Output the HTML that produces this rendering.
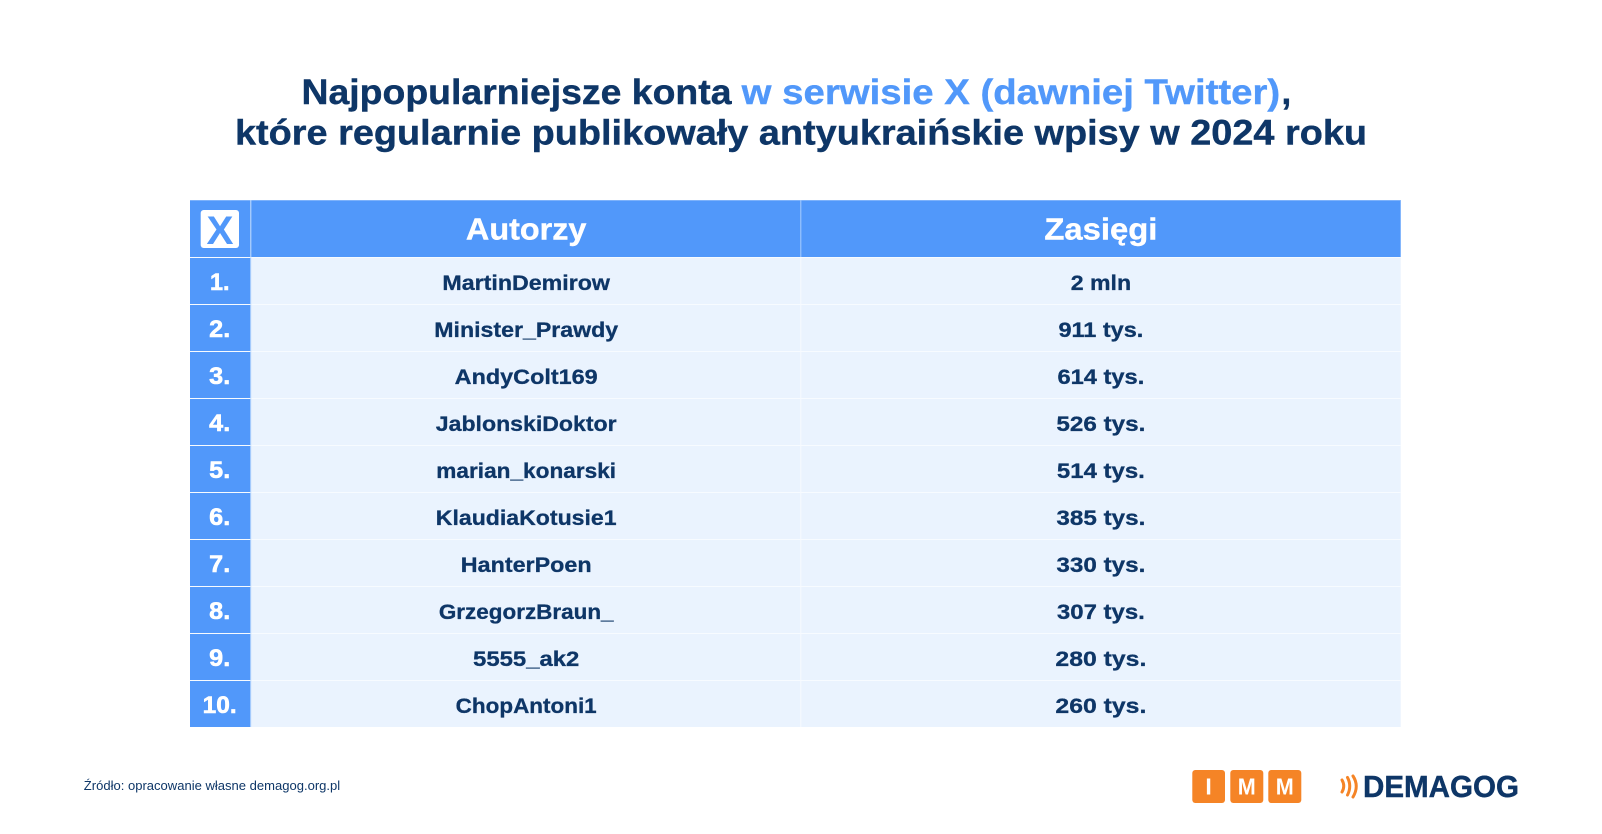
<!DOCTYPE html>
<html lang="pl">
<head>
<meta charset="utf-8">
<title>Najpopularniejsze konta w serwisie X</title>
<style>
html,body{margin:0;padding:0;background:#fff;width:1602px;height:834px;overflow:hidden}
svg{display:block}
text{font-family:"Liberation Sans","Noto Sans CJK SC",sans-serif;font-weight:700}
.t{fill:#0e3667;stroke:#0e3667;stroke-width:.4px;font-size:35px}
.h{fill:#fff;stroke:#fff;stroke-width:.4px;font-size:31px;text-anchor:middle}
.n{fill:#fff;stroke:#fff;stroke-width:.6px;font-size:24px;text-anchor:middle}
.c{fill:#0e3667;stroke:#0e3667;stroke-width:.3px;font-size:21.5px;text-anchor:middle}
</style>
</head>
<body>
<svg width="1602" height="834" viewBox="0 0 1602 834" xmlns="http://www.w3.org/2000/svg">
<rect width="1602" height="834" fill="#fff"/>

<g>
<text class="t" x="301.5" y="104" textLength="430" lengthAdjust="spacingAndGlyphs">Najpopularniejsze konta</text>
<text class="t" x="741.7" y="104" textLength="538.5" lengthAdjust="spacingAndGlyphs" style="fill:#5198fa;stroke:#5198fa">w serwisie X (dawniej Twitter)</text>
<text class="t" x="1281.5" y="104">,</text>
<text class="t" x="235" y="144.5" textLength="1132" lengthAdjust="spacingAndGlyphs">które regularnie publikowały antyukraińskie wpisy w 2024 roku</text>
</g>

<g>
<rect x="190" y="200" width="1210.7" height="57" fill="#5198fa"/>
<rect x="190" y="200" width="1210.7" height="1" fill="#7db2fb"/>
<rect x="250.5" y="257" width="1150.2" height="470" fill="#eaf3fe"/>
<rect x="190" y="257" width="60.5" height="470" fill="#5198fa"/>

<g fill="#f7fbff">
<rect x="190" y="257" width="1210.7" height="1"/>
<rect x="190" y="304" width="1210.7" height="1"/>
<rect x="190" y="351" width="1210.7" height="1"/>
<rect x="190" y="398" width="1210.7" height="1"/>
<rect x="190" y="445" width="1210.7" height="1"/>
<rect x="190" y="492" width="1210.7" height="1"/>
<rect x="190" y="539" width="1210.7" height="1"/>
<rect x="190" y="586" width="1210.7" height="1"/>
<rect x="190" y="633" width="1210.7" height="1"/>
<rect x="190" y="680" width="1210.7" height="1"/>
</g>
<rect x="250.3" y="200" width="1" height="527" fill="#c9e0fd"/>
<rect x="800.3" y="200" width="1" height="57" fill="#a9cdfc"/>
<rect x="800.3" y="258" width="1" height="469" fill="#f7fbff"/>

<g>
<rect x="200.7" y="210" width="38.3" height="38" rx="3" fill="#fff"/>
<text x="220" y="244" text-anchor="middle" textLength="27" lengthAdjust="spacingAndGlyphs" style="font-size:40px;fill:#5198fa">X</text>
<text class="h" x="526.2" y="239.5" textLength="120.5" lengthAdjust="spacingAndGlyphs">Autorzy</text>
<text class="h" x="1100.9" y="239.5" textLength="113" lengthAdjust="spacingAndGlyphs">Zasięgi</text>
</g>

<g>
<text class="n" x="219.7" y="290" textLength="19.5" lengthAdjust="spacingAndGlyphs">1.</text>
<text class="c" x="526.2" y="290" textLength="167.6" lengthAdjust="spacingAndGlyphs">MartinDemirow</text>
<text class="c" x="1100.9" y="290" textLength="60.3" lengthAdjust="spacingAndGlyphs">2 mln</text>
</g>
<g>
<text class="n" x="219.7" y="337" textLength="21" lengthAdjust="spacingAndGlyphs">2.</text>
<text class="c" x="526.2" y="337" textLength="183.9" lengthAdjust="spacingAndGlyphs">Minister_Prawdy</text>
<text class="c" x="1100.9" y="337" textLength="84.8" lengthAdjust="spacingAndGlyphs">911 tys.</text>
</g>
<g>
<text class="n" x="219.7" y="384" textLength="21" lengthAdjust="spacingAndGlyphs">3.</text>
<text class="c" x="526.2" y="384" textLength="143" lengthAdjust="spacingAndGlyphs">AndyColt169</text>
<text class="c" x="1100.9" y="384" textLength="86.8" lengthAdjust="spacingAndGlyphs">614 tys.</text>
</g>
<g>
<text class="n" x="219.7" y="431" textLength="21" lengthAdjust="spacingAndGlyphs">4.</text>
<text class="c" x="526.2" y="431" textLength="180.8" lengthAdjust="spacingAndGlyphs">JablonskiDoktor</text>
<text class="c" x="1100.9" y="431" textLength="88.9" lengthAdjust="spacingAndGlyphs">526 tys.</text>
</g>
<g>
<text class="n" x="219.7" y="478" textLength="21" lengthAdjust="spacingAndGlyphs">5.</text>
<text class="c" x="526.2" y="478" textLength="179.8" lengthAdjust="spacingAndGlyphs">marian_konarski</text>
<text class="c" x="1100.9" y="478" textLength="87.9" lengthAdjust="spacingAndGlyphs">514 tys.</text>
</g>
<g>
<text class="n" x="219.7" y="525" textLength="21" lengthAdjust="spacingAndGlyphs">6.</text>
<text class="c" x="526.2" y="525" textLength="180.8" lengthAdjust="spacingAndGlyphs">KlaudiaKotusie1</text>
<text class="c" x="1100.9" y="525" textLength="88.9" lengthAdjust="spacingAndGlyphs">385 tys.</text>
</g>
<g>
<text class="n" x="219.7" y="572" textLength="21" lengthAdjust="spacingAndGlyphs">7.</text>
<text class="c" x="526.2" y="572" textLength="130.8" lengthAdjust="spacingAndGlyphs">HanterPoen</text>
<text class="c" x="1100.9" y="572" textLength="88.9" lengthAdjust="spacingAndGlyphs">330 tys.</text>
</g>
<g>
<text class="n" x="219.7" y="619" textLength="21" lengthAdjust="spacingAndGlyphs">8.</text>
<text class="c" x="526.2" y="619" textLength="174.7" lengthAdjust="spacingAndGlyphs">GrzegorzBraun_</text>
<text class="c" x="1100.9" y="619" textLength="87.9" lengthAdjust="spacingAndGlyphs">307 tys.</text>
</g>
<g>
<text class="n" x="219.7" y="666" textLength="21" lengthAdjust="spacingAndGlyphs">9.</text>
<text class="c" x="526.2" y="666" textLength="106.3" lengthAdjust="spacingAndGlyphs">5555_ak2</text>
<text class="c" x="1100.9" y="666" textLength="90.9" lengthAdjust="spacingAndGlyphs">280 tys.</text>
</g>
<g>
<text class="n" x="219.7" y="713" textLength="34" lengthAdjust="spacingAndGlyphs">10.</text>
<text class="c" x="526.2" y="713" textLength="141" lengthAdjust="spacingAndGlyphs">ChopAntoni1</text>
<text class="c" x="1100.9" y="713" textLength="90.9" lengthAdjust="spacingAndGlyphs">260 tys.</text>
</g>
</g>

<text x="83.8" y="790" textLength="256.4" lengthAdjust="spacingAndGlyphs" style="font-size:13px;font-weight:400;fill:#0e3667">Źródło: opracowanie własne demagog.org.pl</text>

<g>
<rect x="1192.3" y="770" width="32.7" height="33" rx="3" fill="#f58426"/>
<rect x="1230.3" y="770" width="33" height="33" rx="3" fill="#f58426"/>
<rect x="1268.3" y="770" width="33" height="33" rx="3" fill="#f58426"/>
<text x="1208.6" y="794.5" text-anchor="middle" style="font-size:23px;fill:#fff">I</text>
<text x="1246.8" y="794.5" text-anchor="middle" textLength="18" lengthAdjust="spacingAndGlyphs" style="font-size:23px;fill:#fff">M</text>
<text x="1284.8" y="794.5" text-anchor="middle" textLength="18" lengthAdjust="spacingAndGlyphs" style="font-size:23px;fill:#fff">M</text>
</g>

<g>
<g fill="none" stroke="#f58426" stroke-width="3" stroke-linecap="round">
<path d="M1342 780Q1345.5 786 1342 792"/>
<path d="M1347.5 777.5Q1352 786 1347.5 795"/>
<path d="M1353 776Q1359.5 786 1353 797"/>
</g>
<text x="1363" y="797" textLength="156" lengthAdjust="spacingAndGlyphs" style="font-size:31px;fill:#0e3667;stroke:#0e3667;stroke-width:.4px">DEMAGOG</text>
</g>
</svg>
</body>
</html>
